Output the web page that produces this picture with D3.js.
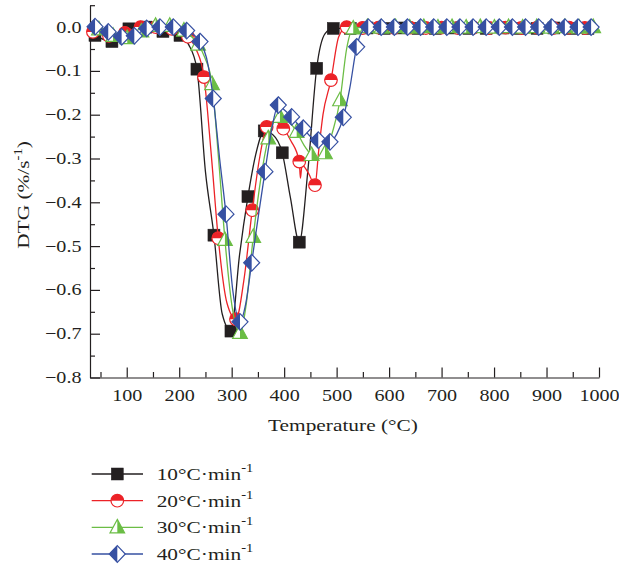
<!DOCTYPE html>
<html>
<head>
<meta charset="utf-8">
<script src="https://cdn.jsdelivr.net/npm/d3@7"></script>
<style>
  html, body { margin: 0; padding: 0; background: #fff; }
  svg text { font-family: "Liberation Serif", "Times New Roman", serif; fill: #231f20; }
</style>
</head>
<body>
<svg id="chart" width="619" height="573"></svg>
<script>
// ---------------- data ----------------
// heating rates (°C·min^-1)
const rates = ["10", "20", "30", "40"];

// 10 °C/min : marked samples (temperature °C, DTG %/s) and extra vertices of the curve
const temp10 = [39.5, 71.8, 104.2, 136.6, 169.0, 201.5, 233.8, 266.2, 298.6, 331.0, 362.0, 396.4, 428.8, 462.0, 493.6,
                526, 558, 591, 623, 655, 688, 720, 752, 785, 817, 850, 882, 914, 947, 979];
const dtg10  = [-0.019, -0.033, -0.004, 0.000, -0.010, -0.019, -0.096, -0.475, -0.694, -0.387, -0.237, -0.287, -0.491, -0.094, -0.003,
                -0.003, -0.002, -0.003, -0.002, -0.003, -0.003, -0.002, -0.003, -0.003, -0.002, -0.003, -0.003, -0.002, -0.003, -0.003];
const bend10 = [[218, -0.040], [250, -0.330], [282, -0.655], [315, -0.520], [346, -0.290], [378, -0.245],
                [412, -0.390], [445, -0.330], [478, -0.015]];

// 20 °C/min
const temp20 = [35.6, 66.1, 96.6, 126.2, 155.7, 186.2, 216.6, 247.2, 274.4, 308.2, 339.2, 366.7, 398.3, 428.8, 458.7, 489.2, 519.1,
                549.4, 579.7, 610, 640, 670, 700, 731, 761, 791, 822, 852, 882, 913, 943, 973];
const dtg20  = [-0.011, -0.020, -0.013, 0.000, 0.000, -0.004, -0.022, -0.114, -0.482, -0.667, -0.418, -0.228, -0.232, -0.307, -0.361, -0.121, 0.000,
                -0.002, -0.001, -0.002, -0.001, -0.002, -0.001, -0.002, -0.001, -0.002, -0.001, -0.002, -0.001, -0.002, -0.001, -0.002];
const bend20 = [[232, -0.050], [261, -0.290], [291, -0.630], [323, -0.580], [353, -0.300], [382, -0.215], [413, -0.260],
                [431, -0.345], [434, -0.315], [447, -0.335], [466, -0.280], [474, -0.200], [504, -0.022]];

// 30 °C/min
const temp30 = [47, 74, 101, 128, 155, 182, 209, 236, 262.6, 287.2, 315.8, 341.1, 369.7, 392.0, 423.9, 452.4, 477.8, 506.4, 531.7,
                558.6, 585.5, 612.4, 639.3, 666.2, 693.1, 720, 746.9, 773.8, 800.7, 827.6, 854.5, 881.4, 908.3, 935.2, 962.1, 989];
const dtg30  = [-0.005, -0.020, -0.025, -0.010, 0.003, 0.003, -0.008, -0.040, -0.130, -0.486, -0.698, -0.479, -0.254, -0.205, -0.239, -0.292, -0.288, -0.167, -0.003,
                0.000, -0.001, 0.000, -0.001, 0.000, -0.001, 0.000, -0.001, 0.000, -0.001, 0.000, -0.001, 0.000, -0.001, 0.000, -0.001, 0.000];
const bend30 = [[249, -0.070], [275, -0.300], [301, -0.640], [328, -0.630], [355, -0.350], [381, -0.215], [408, -0.215],
                [438, -0.270], [465, -0.300], [492, -0.240], [519, -0.050]];

// 40 °C/min
const temp40 = [39.6, 64.8, 90.3, 114.4, 138.0, 163.3, 188.7, 214.2, 239.6, 264.9, 289.1, 315.8, 338.1, 363.4, 388.8, 414.3, 436.4, 465.0, 487.3, 512.7, 538.2, 560.3,
                585, 610, 635, 660, 685, 710, 735, 760, 785, 810, 835, 860, 885, 910, 935, 960, 985];
const dtg40  = [0.001, -0.011, -0.022, -0.020, -0.003, 0.000, 0.000, -0.008, -0.033, -0.163, -0.427, -0.673, -0.538, -0.330, -0.178, -0.205, -0.231, -0.258, -0.262, -0.206, -0.045, 0.000,
                0.000, 0.000, 0.000, 0.000, 0.000, 0.000, 0.000, 0.000, 0.000, 0.000, 0.000, 0.000, 0.000, 0.000, 0.000, 0.000, 0.000];
const bend40 = [[252, -0.070], [277, -0.300], [302, -0.600], [327, -0.630], [351, -0.430], [376, -0.235], [401, -0.190],
                [425, -0.220], [450, -0.250], [476, -0.265], [500, -0.245], [525, -0.140], [549, -0.010]];

// axis ticks
const xMajor = [100, 200, 300, 400, 500, 600, 700, 800, 900, 1000];
const xMinor = [50, 150, 250, 350, 450, 550, 650, 750, 850, 950];
const yMajor = [0.0, -0.1, -0.2, -0.3, -0.4, -0.5, -0.6, -0.7, -0.8];
const yMinor = [0.05, -0.05, -0.15, -0.25, -0.35, -0.45, -0.55, -0.65, -0.75];

// ---------------- layout ----------------
const INK = "#231f20";
const SX = 1.22;            // horizontal stretch applied to the serif text
const svg = d3.select("#chart");

const x = d3.scaleLinear().domain([30, 1000]).range([90, 599]);
const y = d3.scaleLinear().domain([-0.8, 0.05]).range([377.5, 5.2]);

const series = [
  { rate: rates[0], temp: temp10, dtg: dtg10, bend: bend10, color: "#231f20", shape: "square" },
  { rate: rates[1], temp: temp20, dtg: dtg20, bend: bend20, color: "#ec2227", shape: "circle" },
  { rate: rates[2], temp: temp30, dtg: dtg30, bend: bend30, color: "#6bbd45", shape: "triangle" },
  { rate: rates[3], temp: temp40, dtg: dtg40, bend: bend40, color: "#3650a2", shape: "diamond" }
];

// ---------------- axes ----------------
const axisG = svg.append("g");

const xAxisY = y(-0.8);
const gxMinor = axisG.append("g").attr("transform", `translate(0,${xAxisY})`)
  .call(d3.axisBottom(x).tickValues(xMinor).tickSizeInner(-5.5).tickSizeOuter(0).tickFormat(""));
gxMinor.select(".domain").remove();

const gx = axisG.append("g").attr("transform", `translate(0,${xAxisY})`)
  .call(d3.axisBottom(x).tickValues(xMajor).tickSizeInner(-10).tickSizeOuter(0).tickFormat(d3.format("d")));
gx.selectAll(".tick text")
  .attr("x", null).attr("y", null).attr("dy", null)
  .attr("text-anchor", "middle")
  .attr("transform", `translate(0,23.5) scale(${SX},1)`)
  .style("font-size", "16.5px");

const gyMinor = axisG.append("g").attr("transform", `translate(${x(30)},0)`)
  .call(d3.axisLeft(y).tickValues(yMinor).tickSizeInner(-5).tickSizeOuter(0).tickFormat(""));
gyMinor.select(".domain").remove();

const gy = axisG.append("g").attr("transform", `translate(${x(30)},0)`)
  .call(d3.axisLeft(y).tickValues(yMajor).tickSizeInner(-10).tickSizeOuter(0).tickFormat(d3.format(".1f")));
gy.selectAll(".tick text")
  .attr("x", null).attr("y", null).attr("dy", null)
  .attr("text-anchor", "end")
  .attr("transform", `translate(-8.5,5) scale(${SX},1)`)
  .style("font-size", "16.5px");

axisG.selectAll(".domain, .tick line").attr("stroke", INK).attr("stroke-width", 1.2);
axisG.selectAll(".tick text").attr("fill", INK).style("font-family", '"Liberation Serif", serif');

// axis titles
svg.append("text")
  .attr("text-anchor", "middle")
  .attr("transform", `translate(343,430.5) scale(${SX},1)`)
  .style("font-size", "17.5px")
  .text("Temperature (°C)");

const yTitle = svg.append("text")
  .attr("text-anchor", "middle")
  .attr("transform", `translate(28.5,195) rotate(-90) scale(${SX},1)`)
  .style("font-size", "17.5px");
yTitle.append("tspan").text("DTG (%/s");
yTitle.append("tspan").attr("dy", -7).style("font-size", "12px").text("-1");
yTitle.append("tspan").attr("dy", 7).text(")");

// ---------------- markers ----------------
function drawMarker(g, shape, color) {
  const sw = 1.2;
  if (shape === "square") {
    g.append("rect").attr("x", -6).attr("y", -6).attr("width", 12).attr("height", 12)
      .attr("fill", color).attr("stroke", color).attr("stroke-width", 0.5);
  } else if (shape === "circle") {
    const r = 6.3;
    g.append("circle").attr("r", r).attr("fill", "#fff");
    g.append("path").attr("d", `M${-r},0A${r},${r} 0 0 1 ${r},0Z`).attr("fill", color);
    g.append("circle").attr("r", r).attr("fill", "none").attr("stroke", color).attr("stroke-width", sw);
  } else if (shape === "triangle") {
    const hw = 7.3, top = -8, bot = 5.5;
    g.append("path").attr("d", `M0,${top}L${hw},${bot}L${-hw},${bot}Z`).attr("fill", "#fff");
    g.append("path").attr("d", `M0,${top}L${hw},${bot}L0,${bot}Z`).attr("fill", color);
    g.append("path").attr("d", `M0,${top}L${hw},${bot}L${-hw},${bot}Z`)
      .attr("fill", "none").attr("stroke", color).attr("stroke-width", sw).attr("stroke-linejoin", "miter");
  } else {
    const hw = 8, hh = 8.3;
    g.append("path").attr("d", `M0,${-hh}L${hw},0L0,${hh}L${-hw},0Z`).attr("fill", "#fff");
    g.append("path").attr("d", `M0,${-hh}L${-hw},0L0,${hh}Z`).attr("fill", color);
    g.append("path").attr("d", `M0,${-hh}L${hw},0L0,${hh}L${-hw},0Z`)
      .attr("fill", "none").attr("stroke", color).attr("stroke-width", sw);
  }
}

// ---------------- curves ----------------
const line = d3.line().x(d => x(d[0])).y(d => y(d[1])).curve(d3.curveMonotoneX);
const plot = svg.append("g");

series.forEach(s => {
  const marked = s.temp.map((t, i) => [t, s.dtg[i]]);
  const pts = marked.concat(s.bend).sort((a, b) => a[0] - b[0]);
  const g = plot.append("g");
  g.append("path").datum(pts)
    .attr("d", line)
    .attr("fill", "none")
    .attr("stroke", s.color)
    .attr("stroke-width", 1.3);
  g.selectAll("g.mk").data(marked).join("g")
    .attr("class", "mk")
    .attr("transform", d => `translate(${x(d[0])},${y(d[1])})`)
    .each(function () { drawMarker(d3.select(this), s.shape, s.color); });
});

// ---------------- legend ----------------
const legend = svg.append("g");
const rowY = [474, 500.7, 527.4, 554];
series.forEach((s, i) => {
  const g = legend.append("g").attr("transform", `translate(0,${rowY[i]})`);
  g.append("line").attr("x1", 91.7).attr("x2", 143).attr("y1", 0).attr("y2", 0)
    .attr("stroke", s.color).attr("stroke-width", 1.3);
  drawMarker(g.append("g").attr("transform", "translate(117.3,0)"), s.shape, s.color);
  const t = g.append("text")
    .attr("transform", `translate(156.7,6) scale(${SX},1)`)
    .style("font-size", "17.5px");
  t.append("tspan").text(`${s.rate}°C·min`);
  t.append("tspan").attr("dy", -8).style("font-size", "12px").text("-1");
});
</script>
</body>
</html>
